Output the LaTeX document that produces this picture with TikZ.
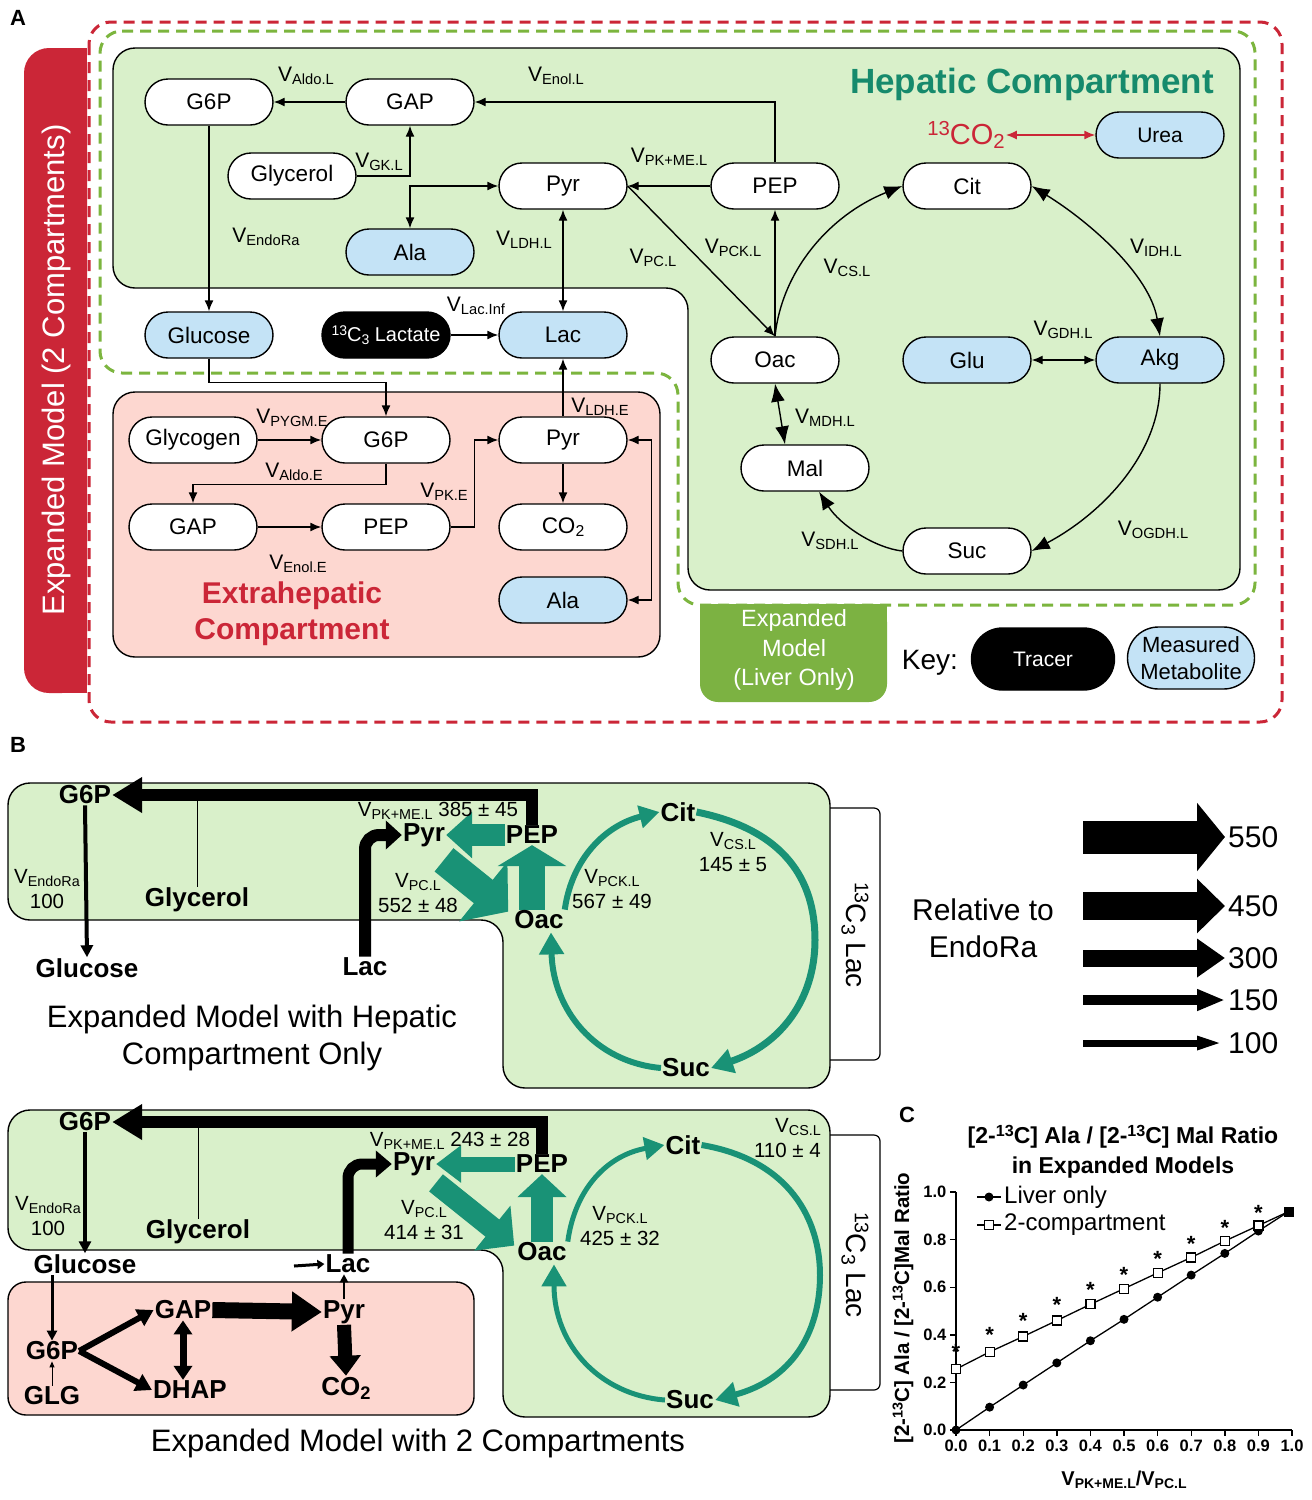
\documentclass[tikz,border=0pt]{standalone}
\usepackage{fontspec}
\setmainfont{Liberation Sans}
\usetikzlibrary{arrows.meta}
\usetikzlibrary{calc}

\definecolor{hepgreen}{RGB}{217,240,202}
\definecolor{expink}{RGB}{253,215,208}
\definecolor{measblue}{RGB}{196,227,246}
\definecolor{modred}{RGB}{203,38,55}
\definecolor{dashgreen}{RGB}{124,181,62}
\definecolor{livergreen}{RGB}{124,178,66}
\definecolor{tcateal}{RGB}{25,146,118}
\definecolor{heptxt}{RGB}{22,138,108}

\pgfdeclarelayer{back}
\pgfdeclarelayer{mid}
\pgfsetlayers{back,mid,main}

\newcommand\fsz[2]{\fontsize{#1}{#2}\selectfont}
\newcommand\lowtxt[1]{\raisebox{-0.3ex}{\fontsize{\the\dimexpr0.7\fontdimen6\font\relax}{1pt}\selectfont #1}}
\newcommand\hightxt[1]{\raisebox{0.6ex}{\fontsize{\the\dimexpr0.7\fontdimen6\font\relax}{1pt}\selectfont #1}}
\newcommand\flx[1]{V\lowtxt{#1}}

\begin{document}
\begin{tikzpicture}[x=1pt, y=-1pt,
  pill/.style={draw, line width=1.4pt, rounded corners=23pt, minimum width=128pt, minimum height=46pt, inner sep=0pt, fill=white, font=\fsz{22.5}{26}},
  meas/.style={pill, fill=measblue},
  vlab/.style={font=\fsz{21}{24}, inner sep=0pt},
  flux/.style={line width=1.4pt, -{Latex[length=11pt,width=9pt]}},
  flux2/.style={line width=1.4pt, {Latex[length=11pt,width=9pt]}-{Latex[length=11pt,width=9pt]}},
  tca/.style={line width=1.4pt, -{Latex[length=18pt,width=14pt]}},
  tca2/.style={line width=1.4pt, {Latex[length=18pt,width=14pt]}-{Latex[length=18pt,width=14pt]}},
  dashbox/.style={line width=3pt, dash pattern=on 11pt off 7pt, rounded corners=22pt},
  comp/.style={draw, line width=1.4pt, rounded corners=22pt},
  bnode/.style={font=\bfseries\fsz{26}{28}, inner sep=1pt},
  blab/.style={font=\fsz{20.5}{25}, inner sep=0pt, align=center},
  bigtxt/.style={font=\fsz{31}{37}, align=center},
  kflow/.style n args={3}{line width=#1pt, -{Triangle[length=#2pt,width=#3pt]}},
  kboth/.style n args={3}{line width=#1pt, {Triangle[length=#2pt,width=#3pt]}-{Triangle[length=#2pt,width=#3pt]}},
  tflow/.style n args={3}{kflow={#1}{#2}{#3}, color=tcateal},
  bracket/.style={line width=1.2pt, rounded corners=6pt},
  panel/.style={font=\bfseries\fsz{22}{24}}
]
\useasboundingbox (0,0) rectangle (1312,1500);
\begin{pgfonlayer}{back}
\fill[white] (0,0) rectangle (1312,1500);
\end{pgfonlayer}

% A
\node[panel] (labA) at (18,18) {A};
\fill[modred, rounded corners=25pt] (24,48) rectangle (87,693);
\fill[modred] (60,48) rectangle (87,693);
\draw[dashbox, modred] (89,22) rectangle (1282,722);
\node[rotate=90, white, font=\fsz{31}{34}] (tabA) at (56,370) {Expanded Model (2 Compartments)};
\draw[dashbox, dashgreen] (100,31) -- (1255,31) -- (1255,605) -- (678,605) -- (678,373) -- (100,373) -- cycle;
\draw[comp, fill=hepgreen] (113,48) -- (1240,48) -- (1240,590) -- (688,590) -- (688,288) -- (113,288) -- cycle;
\draw[comp, fill=expink] (113,392) rectangle (660,657);
\fill[livergreen, rounded corners=18pt] (700,604) rectangle (887,702);
\fill[livergreen] (700,604) rectangle (887,640);
\node[white, align=center, font=\fsz{23.5}{29.5}] (livtxt) at (794,650) {Expanded\\Model\\(Liver Only)};
\node[font=\bfseries\fsz{35}{38}, text=heptxt] (heptitle) at (1032,84) {Hepatic Compartment};
\node[font=\bfseries\fsz{30}{36}, text=modred, align=center] (extitle) at (292,614) {Extrahepatic\\Compartment};

\node[pill] (g6pL) at (209,102) {G6P};
\node[pill] (gapL) at (410,102) {GAP};
\node[pill] (glyL) at (292,176) {Glycerol};
\node[pill] (pyrL) at (563,186) {Pyr};
\node[pill] (pepL) at (775,186) {PEP};
\node[meas] (alaL) at (410,252) {Ala};
\node[pill] (citL) at (967,186) {Cit};
\node[meas, font=\fsz{21}{24}] (ureaL) at (1160,135) {Urea};
\node[text=modred, font=\fsz{29}{30}, inner sep=1pt] (co2L) at (966,135) {\hightxt{13}CO\lowtxt{2}};
\node[meas] (glcL) at (209,335) {Glucose};
\node[pill, fill=black, text=white, font=\fsz{20}{24}] (tracer) at (386,335) {\hightxt{13}C\lowtxt{3} Lactate};
\node[meas] (lacL) at (563,335) {Lac};
\node[pill] (oacL) at (775,360) {Oac};
\node[meas] (gluL) at (967,360) {Glu};
\node[meas] (akgL) at (1160,360) {Akg};
\node[pill] (malL) at (805,468) {Mal};
\node[pill] (sucL) at (967,551) {Suc};

\node[pill] (glgE) at (193,440) {Glycogen};
\node[pill] (g6pE) at (386,440) {G6P};
\node[pill] (pyrE) at (563,440) {Pyr};
\node[pill] (gapE) at (193,527) {GAP};
\node[pill] (pepE) at (386,527) {PEP};
\node[pill] (co2E) at (563,527) {CO\lowtxt{2}};
\node[meas] (alaE) at (563,600) {Ala};

\node[font=\fsz{28}{30}] (keyA) at (930,663) {Key:};
\node[pill, fill=black, text=white, minimum width=143pt, minimum height=62pt, rounded corners=31pt, font=\fsz{21}{24}] (keytr) at (1043,659) {Tracer};
\node[meas, minimum width=127pt, minimum height=62pt, rounded corners=31pt, align=center, font=\fsz{22}{27}] (keyms) at (1191,658) {Measured\\Metabolite};

\draw[flux] (gapL) -- (g6pL);
\draw[flux] (pepL.north) |- (gapL.east);
\draw[flux] (glyL.east) -| (gapL.south);
\draw[flux] (pepL) -- (pyrL);
\draw[flux2] (alaL.north) |- (pyrL.west);
\draw[flux2] (pyrL) -- (lacL);
\draw[flux] (g6pL) -- (glcL);
\draw[flux] (tracer) -- (lacL);
\draw[flux] (pyrL.east) -- (oacL.north);
\draw[flux] (oacL.north) -- (pepL.south);
\draw[tca] (oacL.north) .. controls (782,270) and (830,215) .. (citL.west);
\draw[tca2] (citL.east) .. controls (1090,222) and (1150,275) .. (akgL.north);
\draw[tca] (akgL.south) .. controls (1160,455) and (1100,515) .. (sucL.east);
\draw[tca] (sucL.west) .. controls (875,548) and (840,525) .. ($(malL.south)+(14,0)$);
\draw[tca2] (oacL.south) -- ($(malL.north)+(-20,0)$);
\draw[flux2] (gluL) -- (akgL);
\draw[flux2, modred] (co2L) -- (ureaL);

\draw[flux] (glcL.south) -- ++(0,24) -| (g6pE.north);
\draw[flux] (glgE) -- (g6pE);
\draw[flux] (g6pE.south) -- ++(0,21) -| (gapE.north);
\draw[flux] (gapE) -- (pepE);
\draw[flux] (pepE.east) -- ++(24,0) |- (pyrE.west);
\draw[flux] (pyrE) -- (lacL);
\draw[flux] (pyrE) -- (co2E);
\draw[flux2] (pyrE.east) -- ++(24,0) |- (alaE.east);

\node[vlab] (vAldoL) at (306,76) {\flx{Aldo.L}};
\node[vlab] (vEnolL) at (556,76) {\flx{Enol.L}};
\node[vlab] (vGKL) at (379,162) {\flx{GK.L}};
\node[vlab] (vPKL) at (669,157) {\flx{PK+ME.L}};
\node[vlab] (vEndoL) at (266,237) {\flx{EndoRa}};
\node[vlab] (vLDHL) at (524,240) {\flx{LDH.L}};
\node[vlab] (vPCL) at (653,258) {\flx{PC.L}};
\node[vlab] (vPCKL) at (733,248) {\flx{PCK.L}};
\node[vlab] (vCSL) at (847,268) {\flx{CS.L}};
\node[vlab] (vIDHL) at (1156,248) {\flx{IDH.L}};
\node[vlab] (vGDHL) at (1063,330) {\flx{GDH.L}};
\node[vlab] (vMDHL) at (825,418) {\flx{MDH.L}};
\node[vlab] (vOGDHL) at (1153,530) {\flx{OGDH.L}};
\node[vlab] (vSDHL) at (830,541) {\flx{SDH.L}};
\node[vlab] (vLacInf) at (476,306) {\flx{Lac.Inf}};
\node[vlab] (vPYGME) at (292,418) {\flx{PYGM.E}};
\node[vlab] (vAldoE) at (294,472) {\flx{Aldo.E}};
\node[vlab] (vEnolE) at (298,564) {\flx{Enol.E}};
\node[vlab] (vPKE) at (444,492) {\flx{PK.E}};
\node[vlab] (vLDHE) at (600,407) {\flx{LDH.E}};

% B, hepatic only
\node[panel] (labB) at (18,745) {B};
\begin{pgfonlayer}{back}
\draw[comp, fill=hepgreen] (8,783) -- (830,783) -- (830,1088) -- (503,1088) -- (503,920) -- (8,920) -- cycle;
\draw[bracket] (830,808) -- (880,808) -- (880,1060) -- (830,1060);
\end{pgfonlayer}
\node[rotate=-90, font=\fsz{28}{30}] (c13B1) at (855,935) {\hightxt{13}C\lowtxt{3} Lac};

\node[bnode] (g6pB1) at (85,795) {G6P};
\node[bnode] (glcB1) at (87,968) {Glucose};
\node[bnode] (glyB1) at (197,900) {Glycerol};
\node[bnode] (lacB1) at (365,967) {Lac};
\node[bnode] (pyrB1) at (424,835) {Pyr};
\node[bnode] (pepB1) at (532,835) {PEP};
\node[bnode] (oacB1) at (539,920) {Oac};
\node[bnode] (citB1) at (678,812) {Cit};
\node[bnode] (sucB1) at (686,1068) {Suc};

\node[blab] (endoB1) at (47,889) {\flx{EndoRa}\\100};
\node[blab, anchor=base] (pkB1) at (438,816) {\flx{PK+ME.L} 385 ± 45};
\node[blab] (pcB1) at (418,893) {\flx{PC.L}\\552 ± 48};
\node[blab] (pckB1) at (612,889) {\flx{PCK.L}\\567 ± 49};
\node[blab] (csB1) at (733,852) {\flx{CS.L}\\145 ± 5};

\begin{pgfonlayer}{mid}
\draw[line width=0.8pt, -{Latex[length=5pt,width=3pt]}] (glyB1.north) -- (glyB1.north |- g6pB1.east);
\draw[kflow={12}{30}{34}] (pepB1.north) |- (g6pB1.east);
\draw[kflow={4}{12}{12}] (g6pB1.south) -- (glcB1.north);
\draw[kflow={12}{16}{28}, rounded corners=14pt] (lacB1.north) |- (pyrB1.west);
\draw[tflow={22}{26}{45}] (pepB1.west) -- (pyrB1.east);
\draw[tflow={30}{32}{75}] ($(pyrB1.south)+(20,12)$) -- ($(oacB1.north west)+(-5,2)$);
\draw[tflow={26}{21}{68}] (oacB1.north -| pepB1) -- (pepB1.south);
\draw[tflow={6}{20}{22}] (oacB1.north east) .. controls (572,858) and (606,825) .. (citB1.west);
\draw[tflow={7}{22}{24}] (citB1.east) .. controls (785,830) and (815,880) .. (815,940) .. controls (815,1000) and (780,1045) .. (sucB1.east);
\draw[tflow={6}{22}{24}] (sucB1.west) .. controls (595,1062) and (553,1010) .. ($(oacB1.south)+(12,2)$);
\end{pgfonlayer}

\node[bigtxt] (capB1) at (252,1038) {Expanded Model with Hepatic\\Compartment Only};

\node[font=\fsz{30}{37}, align=center] (reltxt) at (983,928) {Relative to\\EndoRa};
\foreach \yy/\lw/\hw/\val in {837/33/67/550, 906/28/53/450, 958/17/37/300, 1000/10/20/150, 1043/7/12/100} {
  \coordinate (ls\val) at (1083,\yy);
  \coordinate (le\val) at (1225,\yy);
  \draw[kflow={\lw}{28}{\hw}] (ls\val) -- (le\val);
  \node[anchor=west, font=\fsz{30}{32}, inner sep=1pt] (lv\val) at (1227,\yy) {\val};
}

% B, two compartments
\begin{pgfonlayer}{back}
\draw[comp, fill=hepgreen] (8,1110) -- (830,1110) -- (830,1417) -- (503,1417) -- (503,1250) -- (8,1250) -- cycle;
\draw[bracket] (830,1135) -- (880,1135) -- (880,1390) -- (830,1390);
\draw[comp, fill=expink, rounded corners=18pt] (8,1282) rectangle (474,1415);
\end{pgfonlayer}
\node[rotate=-90, font=\fsz{28}{30}] (c13B2) at (855,1265) {\hightxt{13}C\lowtxt{3} Lac};

\node[bnode] (g6pB2) at (85,1122) {G6P};
\node[bnode] (glcB2) at (85,1264) {Glucose};
\node[bnode] (glyB2) at (198,1232) {Glycerol};
\node[bnode] (lacB2) at (348,1264) {Lac};
\node[bnode] (pyrB2) at (414,1164) {Pyr};
\node[bnode] (pepB2) at (542,1164) {PEP};
\node[bnode] (oacB2) at (542,1252) {Oac};
\node[bnode] (citB2) at (683,1145) {Cit};
\node[bnode] (sucB2) at (690,1400) {Suc};
\node[bnode] (g6pP) at (52,1351) {G6P};
\node[bnode] (glgP) at (52,1396) {GLG};
\node[bnode] (gapP) at (183,1310) {GAP};
\node[bnode] (dhapP) at (190,1390) {DHAP};
\node[bnode] (pyrP) at (344,1312) {Pyr};
\node[bnode] (co2P) at (346,1388) {CO\lowtxt{2}};

\node[blab] (endoB2) at (48,1216) {\flx{EndoRa}\\100};
\node[blab, anchor=base] (pkB2) at (450,1146) {\flx{PK+ME.L} 243 ± 28};
\node[blab] (pcB2) at (424,1220) {\flx{PC.L}\\414 ± 31};
\node[blab] (pckB2) at (620,1226) {\flx{PCK.L}\\425 ± 32};
\node[blab, anchor=east, align=right] (csB2) at (821,1138) {\flx{CS.L}\\110 ± 4};

\begin{pgfonlayer}{mid}
\draw[line width=0.8pt, -{Latex[length=5pt,width=3pt]}] (glyB2.north) -- (glyB2.north |- g6pB2.east);
\draw[kflow={12}{30}{34}] (pepB2.north) |- (g6pB2.east);
\draw[kflow={4}{12}{12}] (g6pB2.south) -- (glcB2.north);
\draw[kflow={11}{16}{26}, rounded corners=14pt] (lacB2.north) |- (pyrB2.west);
\coordinate (lacin) at (294,1266);
\draw[kflow={3}{7}{9}] (lacin) -- (lacB2.west);
\draw[tflow={15}{25}{36}] (pepB2.west) -- (pyrB2.east);
\draw[tflow={22}{28}{56}] ($(pyrB2.south)+(22,6)$) -- ($(oacB2.north west)+(-2,4)$);
\draw[tflow={22}{23}{48}] (oacB2.north -| pepB2) -- (pepB2.south);
\draw[tflow={5}{20}{22}] (oacB2.north east) .. controls (575,1188) and (608,1155) .. (citB2.west);
\draw[tflow={6}{22}{24}] (citB2.east) .. controls (790,1160) and (820,1220) .. (820,1275) .. controls (820,1335) and (790,1380) .. (sucB2.east);
\draw[tflow={5}{22}{24}] (sucB2.west) .. controls (600,1395) and (554,1345) .. ($(oacB2.south)+(12,2)$);

\draw[kflow={3}{10}{10}] (glcB2.south -| g6pP) -- (g6pP.north);
\draw[kflow={1}{6}{5}] (glgP.north) -- (g6pP.south);
\draw[kflow={6}{16}{18}] (g6pP.east) -- (gapP.west);
\draw[kflow={6}{16}{18}] (g6pP.east) -- (dhapP.west);
\draw[kboth={7}{14}{18}] (gapP.south) -- (gapP.south |- dhapP.north);
\draw[kflow={16}{30}{38}] (gapP.east) -- (pyrP.west);
\draw[kflow={2}{8}{8}] (pyrP.north) -- (pyrP.north |- lacB2.south);
\draw[kflow={14}{20}{30}] (pyrP.south) -- (co2P.north);
\end{pgfonlayer}

\node[bigtxt] (capB2) at (418,1443) {Expanded Model with 2 Compartments};

% C
\node[panel] (labC) at (907,1115) {C};
\node[font=\bfseries\fsz{23}{30}, align=center] (ctitle) at (1123,1152) {[2-\hightxt{13}C] Ala / [2-\hightxt{13}C] Mal Ratio\\in Expanded Models};
\begin{scope}[shift={(956,1430)}, x=336pt, y=238pt]
  \draw[line width=1.6pt] (0,1) -- (0,0) -- (1,0);
  \foreach \t/\lab in {0/0.0,1/0.1,2/0.2,3/0.3,4/0.4,5/0.5,6/0.6,7/0.7,8/0.8,9/0.9,10/1.0} {
    \draw[line width=1.4pt] (\t/10,0) -- ++(0,-6pt);
    \node[font=\bfseries\fsz{16.5}{18}, anchor=north, inner sep=0pt] at (\t/10,-0.04) {\lab};
  }
  \foreach \v/\lab in {0/0.0,0.2/0.2,0.4/0.4,0.6/0.6,0.8/0.8,1/1.0} {
    \draw[line width=1.4pt] (0,\v) -- ++(-6pt,0);
    \node[font=\bfseries\fsz{16.5}{18}, anchor=east, inner sep=0pt] at (-0.028,\v) {\lab};
  }
  \draw[line width=1.3pt] plot coordinates {(0,0) (0.1,0.096) (0.2,0.189) (0.3,0.282) (0.4,0.375) (0.5,0.465) (0.6,0.558) (0.7,0.651) (0.8,0.742) (0.9,0.836) (0.99,0.918)};
  \draw[line width=1.3pt] plot coordinates {(0,0.256) (0.1,0.328) (0.2,0.393) (0.3,0.46) (0.4,0.528) (0.5,0.594) (0.6,0.66) (0.7,0.725) (0.8,0.794) (0.9,0.859) (0.99,0.918)};
  \foreach \px/\py in {0/0,0.1/0.096,0.2/0.189,0.3/0.282,0.4/0.375,0.5/0.465,0.6/0.558,0.7/0.651,0.8/0.742,0.9/0.836}
    \fill (\px,\py) circle (4.5pt);
  \foreach \px/\py in {0/0.256,0.1/0.328,0.2/0.393,0.3/0.46,0.4/0.528,0.5/0.594,0.6/0.66,0.7/0.725,0.8/0.794,0.9/0.859}
    \draw[line width=1.2pt, fill=white] (\px,\py) +(-4.5pt,-4.5pt) rectangle +(4.5pt,4.5pt);
  \fill (0.99,0.918) +(-5pt,-5pt) rectangle +(5pt,5pt);
  \foreach \px/\py in {0/0.35,0.1/0.418,0.2/0.48,0.3/0.545,0.4/0.608,0.5/0.672,0.6/0.738,0.7/0.803,0.8/0.869,0.9/0.932}
    \node[font=\bfseries\fsz{22}{22}, inner sep=0pt] at (\px,\py-0.02) {*};
\end{scope}
\draw[line width=1.3pt] (977,1197) -- (1001,1197);
\fill (989,1197) circle (4.5pt);
\node[anchor=west, font=\fsz{24}{26}, inner sep=1pt] (lgliv) at (1003,1197) {Liver only};
\draw[line width=1.3pt] (977,1225) -- (1001,1225);
\draw[line width=1.2pt, fill=white] (984.5,1220.5) rectangle (993.5,1229.5);
\node[anchor=west, font=\fsz{24}{26}, inner sep=1pt] (lgtwo) at (1003,1225) {2-compartment};
\node[rotate=90, font=\bfseries\fsz{20.5}{22}] (ylab) at (903,1308) {[2-\hightxt{13}C] Ala / [2-\hightxt{13}C]Mal Ratio};
\node[font=\bfseries\fsz{20}{22}] (xlab) at (1124,1480) {\flx{PK+ME.L}/\flx{PC.L}};
\end{tikzpicture}
\end{document}
